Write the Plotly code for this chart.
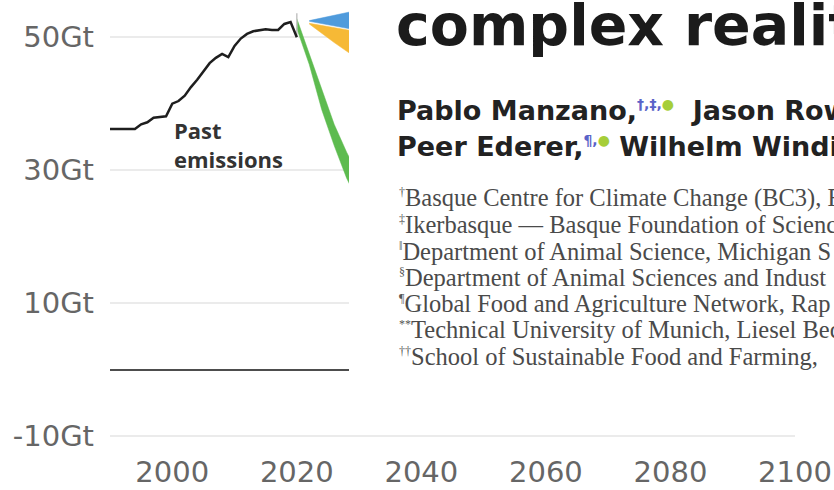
import plotly.graph_objects as go

# ---------------- data ----------------
past_years = list(range(1990, 2021))
past_emissions = [36.2, 36.2, 36.2, 36.2, 36.2, 36.9, 37.2, 37.9, 38.0, 38.1,
                  40.0, 40.4, 41.2, 42.5, 43.6, 44.8, 46.1, 46.9, 47.5, 47.0,
                  48.7, 49.8, 50.5, 50.9, 51.1, 51.2, 51.1, 51.1, 52.0, 52.3, 50.0]

green_years = [2020, 2022, 2024, 2026, 2028, 2030]
green_upper = [52.8, 47.6, 42.1, 36.9, 32.7, 29.0]
green_lower = [51.3, 45.9, 39.1, 33.7, 28.8, 25.0]

blue_years = [2022, 2026, 2030]
blue_upper = [52.5, 53.3, 54.1]
blue_lower = [52.4, 51.7, 51.0]

yellow_years = [2022, 2026, 2030]
yellow_upper = [52.1, 51.5, 50.8]
yellow_lower = [52.0, 49.2, 46.6]

today_x = [2020, 2020]
today_y = [50.2, 53.6]

y_ticks = [-10, 10, 30, 50]
y_tick_labels = ["-10Gt", "10Gt", "30Gt", "50Gt"]
x_ticks = [2000, 2020, 2040, 2060, 2080, 2100]

title_text = "complex realit"
SUP_A = "<span style='color:#5a63c8;font-size:14px'>"
SUP_B = "<span style='color:#a6ce39;font-size:14px'>"
author_lines = [
    "Pablo Manzano,<sup>" + SUP_A + "†,‡,</span>" + SUP_B + "●</span></sup>&nbsp; Jason Row",
    "Peer Ederer,<sup>" + SUP_A + "¶,</span>" + SUP_B + "●</span></sup> Wilhelm Windis",
]
SUP_C = "<sup><span style='font-size:12px;color:#555555'>"
affiliations = [
    SUP_C + "†</span></sup>Basque Centre for Climate Change (BC3), B",
    SUP_C + "‡</span></sup>Ikerbasque — Basque Foundation of Scienc",
    SUP_C + "‖</span></sup>Department of Animal Science, Michigan S",
    SUP_C + "§</span></sup>Department of Animal Sciences and Indust",
    SUP_C + "¶</span></sup>Global Food and Agriculture Network, Rap",
    SUP_C + "**</span></sup>Technical University of Munich, Liesel Bec",
    SUP_C + "††</span></sup>School of Sustainable Food and Farming, ",
]

# ---------------- layout geometry ----------------
W, H = 834, 490
ML, MR, MT, MB = 110, 39, 4, 52
PW, PH = W - ML - MR, H - MT - MB


def px(xp):
    return (xp - ML) / PW


def py(yp):
    return (H - MB - yp) / PH


def band(xs, up, lo):
    return list(xs) + list(xs)[::-1], list(up) + list(lo)[::-1]


fig = go.Figure()

gx, gy = band(green_years, green_upper, green_lower)
fig.add_trace(go.Scatter(x=gx, y=gy, fill="toself", fillcolor="#5dbb4f",
                         line=dict(width=0.5, color="#5dbb4f"), mode="lines",
                         hoverinfo="skip", showlegend=False))
bx, by = band(blue_years, blue_upper, blue_lower)
fig.add_trace(go.Scatter(x=bx, y=by, fill="toself", fillcolor="#4f9bdc",
                         line=dict(width=0.5, color="#4f9bdc"), mode="lines",
                         hoverinfo="skip", showlegend=False))
yx, yy = band(yellow_years, yellow_upper, yellow_lower)
fig.add_trace(go.Scatter(x=yx, y=yy, fill="toself", fillcolor="#f6b936",
                         line=dict(width=0.5, color="#f6b936"), mode="lines",
                         hoverinfo="skip", showlegend=False))
fig.add_trace(go.Scatter(x=today_x, y=today_y, mode="lines",
                         line=dict(color="#c4c4c4", width=1.5),
                         hoverinfo="skip", showlegend=False))
fig.add_trace(go.Scatter(x=past_years, y=past_emissions, mode="lines",
                         line=dict(color="#1e1e1e", width=2.5),
                         name="Past emissions", showlegend=False))

annotations = []
annotations.append(dict(xref="paper", yref="paper", x=px(172), y=py(144),
                        xanchor="left", yanchor="middle", align="left",
                        text="<b>Past<br>emissions</b>", showarrow=False,
                        font=dict(family="Open Sans", size=22, color="#333333")))

# overlaid paper excerpt
annotations.append(dict(xref="paper", yref="paper", x=px(394), y=py(60),
                        xanchor="left", yanchor="bottom", text="<b>" + title_text + "</b>",
                        showarrow=False,
                        font=dict(family="DejaVu Sans", size=57, color="#1b1b1b")))
for i, t in enumerate(author_lines):
    base = 119 + 36 * i
    annotations.append(dict(xref="paper", yref="paper", x=px(395), y=py(base + 9),
                            xanchor="left", yanchor="bottom", text="<b>" + t + "</b>",
                            showarrow=False,
                            font=dict(family="DejaVu Sans", size=27, color="#222222")))
for i, t in enumerate(affiliations):
    center = 197 + 26.25 * i
    annotations.append(dict(xref="paper", yref="paper", x=px(397), y=py(center + 17),
                            xanchor="left", yanchor="bottom", text=t,
                            showarrow=False,
                            font=dict(family="Liberation Serif", size=24.5, color="#4a4a4a")))

fig.update_layout(
    width=W, height=H,
    margin=dict(l=ML, r=MR, t=MT, b=MB, pad=0, autoexpand=False),
    paper_bgcolor="white", plot_bgcolor="white",
    showlegend=False,
    xaxis=dict(range=[1990, 2100], tickvals=x_ticks, showgrid=False, zeroline=False,
               showline=False, ticks="", ticklabelstandoff=14, automargin=False,
               tickfont=dict(family="DejaVu Sans", size=29, color="#666666")),
    yaxis=dict(range=[-10.3, 55], tickvals=y_ticks, ticktext=y_tick_labels, showgrid=True,
               gridcolor="#ebebeb", gridwidth=2, zeroline=True, zerolinecolor="#4d4d4d",
               zerolinewidth=1.8, showline=False, ticks="", ticklabelstandoff=15,
               automargin=False,
               tickfont=dict(family="DejaVu Sans", size=29, color="#666666")),
    shapes=[dict(type="rect", xref="paper", yref="paper", x0=px(349), x1=px(840),
                 y0=py(425), y1=py(-5), fillcolor="white", line=dict(width=0),
                 layer="above")],
    annotations=annotations,
)

fig.write_html("out.html", config={"displayModeBar": False},
               post_script="document.body.style.margin='0px';")
